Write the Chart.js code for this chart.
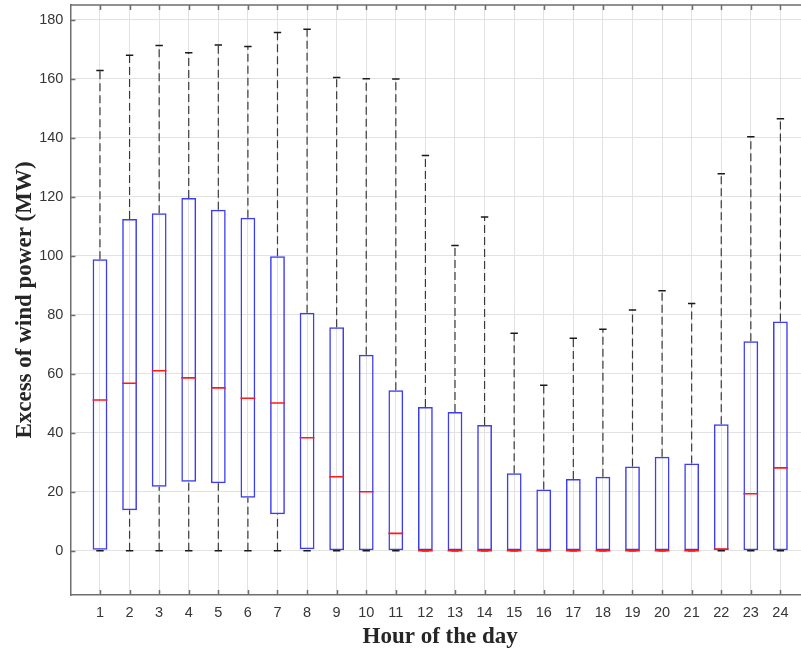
<!DOCTYPE html>
<html><head><meta charset="utf-8">
<script src="https://cdn.jsdelivr.net/npm/chart.js@4/dist/chart.umd.min.js"></script>
<style>
html,body{margin:0;padding:0;background:#fff;overflow:hidden}
#wrap{position:relative;width:810px;height:653px}
</style>
</head><body><div id="wrap"><canvas id="c"></canvas></div>
<script>
// ---- data ----
const hours  = [1,2,3,4,5,6,7,8,9,10,11,12,13,14,15,16,17,18,19,20,21,22,23,24];
const maxV   = [162.8,168.0,171.3,168.8,171.4,170.9,175.7,176.8,160.4,160.0,159.9,134.0,103.5,113.1,73.7,56.1,72.0,75.1,81.6,88.1,83.8,127.8,140.3,146.4];
const q3V    = [98.8,112.5,114.4,119.6,115.6,112.9,99.8,80.7,75.8,66.4,54.4,48.7,47.0,42.6,26.3,20.8,24.3,25.1,28.6,31.9,29.6,42.9,71.0,77.7];
const medV   = [51.1,56.8,61.0,58.6,55.2,51.7,50.1,38.3,25.1,20.0,5.9,0,0,0,0,0,0,0,0,0,0,0.6,19.3,28.1];
const q1V    = [0.3,13.7,21.7,23.4,22.9,18.0,12.4,0.5,0,0,0,0,0,0,0,0,0,0,0,0,0,0,0,0];
const minV   = [0,0,0,0,0,0,0,0,0,0,0,0,0,0,0,0,0,0,0,0,0,0,0,0];
const yTickValues = [0,20,40,60,80,100,120,140,160,180];

// ---- styling ----
const BOX_W = 0.5, CAP_W = 0.25;
const BLUE = '#3c3cf0', RED = '#ff1a1a', WHISK = '#3a3a3a', CAP = '#1a1a1a';
const AXIS = '#6e6e6e', GRID = '#e2e2e2', TXT = '#363636';

function segments(fn){
  const out = [];
  hours.forEach((h,i)=>{
    const pts = fn(h,i);
    if (!pts.length) return;
    pts.forEach(p=>out.push(p));
    out.push({x:h, y:null});
  });
  return out;
}

const boxes = hours.map((h,i)=>({x:h, y:[q1V[i], q3V[i]]}));
const upperWh = segments((h,i)=>[{x:h,y:q3V[i]},{x:h,y:maxV[i]}]);
const lowerWh = segments((h,i)=> q1V[i] > minV[i] + 1 ? [{x:h,y:minV[i]},{x:h,y:q1V[i]}] : []);
const capsMax = segments((h,i)=>[{x:h-CAP_W/2,y:maxV[i]},{x:h+CAP_W/2,y:maxV[i]}]);
const capsMin = segments((h,i)=>[{x:h-CAP_W/2,y:minV[i]},{x:h+CAP_W/2,y:minV[i]}]);
const medians = segments((h,i)=>[{x:h-BOX_W/2,y:medV[i]},{x:h+BOX_W/2,y:medV[i]}]);

const lineDs = (data, color, width, dash, order) => ({
  type:'line', data, borderColor:color, borderWidth:width, borderDash:dash||[],
  pointRadius:0, spanGaps:false, fill:false, tension:0, order
});

const frame = {
  id:'frame',
  afterDraw(chart){
    const {ctx, chartArea:a, scales:{x,y}} = chart;
    ctx.save();
    ctx.strokeStyle = AXIS; ctx.lineWidth = 1.5;
    ctx.beginPath();
    ctx.moveTo(a.left, a.top); ctx.lineTo(a.right, a.top);
    x.ticks.forEach(t=>{
      if (t.value < 1 || t.value > 24) return;
      const px = Math.round(x.getPixelForValue(t.value)) + 0.5;
      ctx.moveTo(px, a.bottom); ctx.lineTo(px, a.bottom - 5);
      ctx.moveTo(px, a.top); ctx.lineTo(px, a.top + 5);
    });
    y.ticks.forEach(t=>{
      const py = Math.round(y.getPixelForValue(t.value)) + 0.5;
      ctx.moveTo(a.left, py); ctx.lineTo(a.left + 5, py);
    });
    ctx.stroke();
    ctx.restore();
  }
};

new Chart(document.getElementById('c'), {
  type:'bar',
  data:{
    datasets:[
      lineDs(upperWh, WHISK, 1.2, [8,4], 3),
      lineDs(lowerWh, WHISK, 1.2, [8,4], 3),
      lineDs(capsMax, CAP, 1.5, [], 2),
      lineDs(capsMin, CAP, 1.5, [], 2),
      {type:'bar', data:boxes, backgroundColor:'rgba(0,0,0,0)', borderColor:BLUE,
       borderWidth:1.5, borderSkipped:false, categoryPercentage:1, barPercentage:BOX_W, order:1},
      lineDs(medians, RED, 1.6, [], 0)
    ]
  },
  options:{
    responsive:true, maintainAspectRatio:false, animation:false, events:[],
    layout:{padding:{top:5, right:0, left:0, bottom:0}},
    plugins:{legend:{display:false}, tooltip:{enabled:false}},
    scales:{
      x:{
        type:'linear', min:0, max:25, offset:false,
        grid:{color:GRID, lineWidth:1, drawTicks:false, offset:false},
        border:{color:AXIS, width:1.5},
        ticks:{stepSize:1, autoSkip:false, maxRotation:0, padding:9, color:TXT,
               font:{family:"'Liberation Sans', Arial, sans-serif", size:14.5},
               callback:v => (v>=1 && v<=24) ? String(hours[v-1]) : ''},
        title:{display:true, text:'Hour of the day', color:'#262626',
               font:{family:"'Liberation Serif', 'Times New Roman', serif", size:23, weight:'bold'},
               padding:{top:0, bottom:2}},
        afterFit(s){ s.height = 58; s.paddingLeft = 0; s.paddingRight = 0; }
      },
      y:{
        type:'linear', min:-15, max:185,
        grid:{color:GRID, lineWidth:1, drawTicks:false},
        border:{color:AXIS, width:1.5},
        afterBuildTicks(s){ s.ticks = yTickValues.map(v=>({value:v})); },
        ticks:{padding:7, color:TXT,
               font:{family:"'Liberation Sans', Arial, sans-serif", size:14.5},
               callback:v => String(v)},
        title:{display:true, text:'Excess of wind power (MW)', color:'#262626',
               font:{family:"'Liberation Serif', 'Times New Roman', serif", size:23, weight:'bold'},
               padding:{top:11, bottom:0}},
        afterFit(s){ s.width = 70.4; s.paddingTop = 0; s.paddingBottom = 0; }
      }
    }
  },
  plugins:[frame]
});
</script>
</body></html>
